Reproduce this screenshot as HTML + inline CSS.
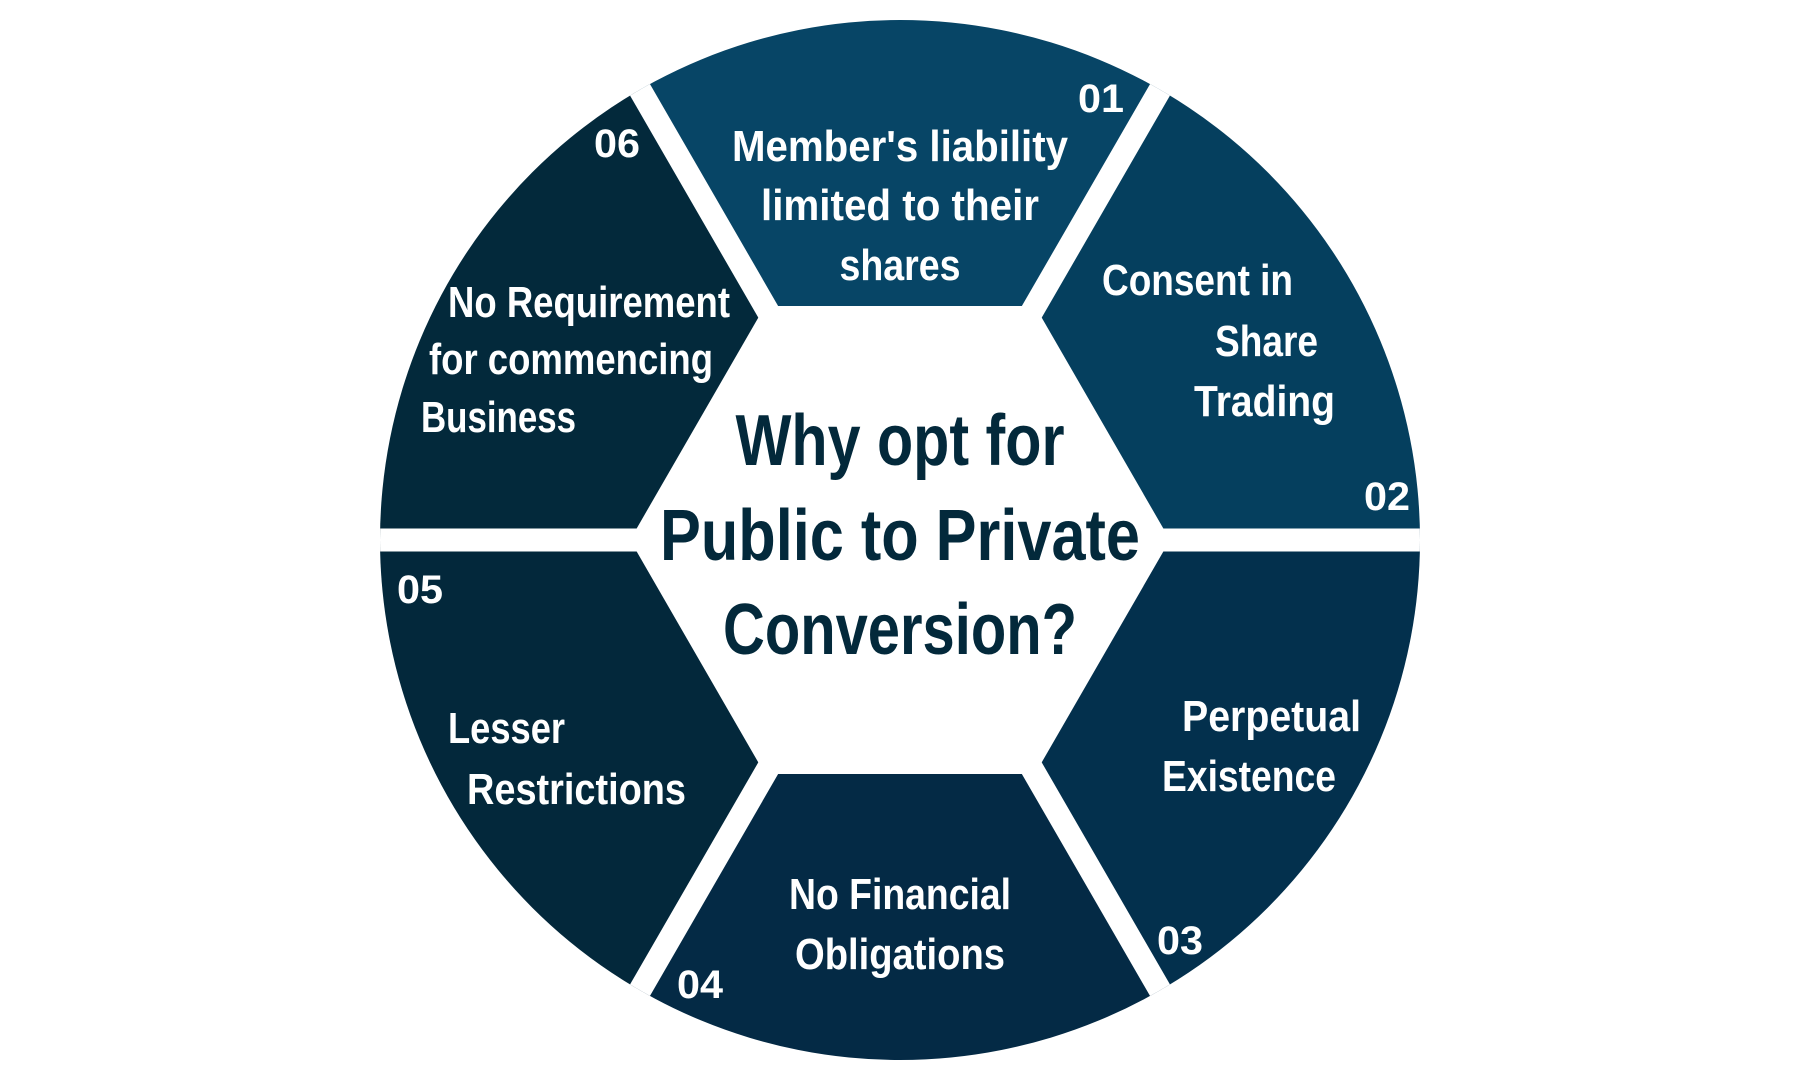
<!DOCTYPE html>
<html><head><meta charset="utf-8"><style>
html,body{margin:0;padding:0;background:#fff;width:1800px;height:1080px;overflow:hidden}
svg{display:block}
text{font-family:"Liberation Sans Narrow","Liberation Sans",sans-serif;font-weight:bold}
.w{fill:#fff;font-size:44px}
.n{fill:#fff;font-size:40px}
.c{fill:#03293b;font-size:72px}
</style></head><body>
<svg width="1800" height="1080" viewBox="0 0 1800 1080">
<defs><clipPath id="cc"><circle cx="900" cy="540" r="520"/></clipPath></defs>
<g clip-path="url(#cc)">
<polygon points="900,540 550,-66 1250,-66" fill="#074566"/>
<polygon points="900,540 1250,-66 1600,540" fill="#053f5e"/>
<polygon points="900,540 1600,540 1250,1146" fill="#03304d"/>
<polygon points="900,540 1250,1146 550,1146" fill="#042a45"/>
<polygon points="900,540 550,1146 200,540" fill="#03283b"/>
<polygon points="900,540 200,540 550,-66" fill="#03293b"/>
<g stroke="#fff" stroke-width="23">
<line x1="900" y1="540" x2="1600" y2="540"/>
<line x1="900" y1="540" x2="200" y2="540"/>
<line x1="900" y1="540" x2="1250" y2="-66"/>
<line x1="900" y1="540" x2="550" y2="-66"/>
<line x1="900" y1="540" x2="1250" y2="1146"/>
<line x1="900" y1="540" x2="550" y2="1146"/>
</g>
<polygon points="1170,540 1035,306 765,306 630,540 765,774 1035,774" fill="#fff"/>
</g>
<text class="n" x="1078" y="112" textLength="46" lengthAdjust="spacingAndGlyphs">01</text>
<text class="w" x="900" y="161" text-anchor="middle" textLength="336" lengthAdjust="spacingAndGlyphs">Member's liability</text>
<text class="w" x="900" y="220" text-anchor="middle" textLength="278" lengthAdjust="spacingAndGlyphs">limited to their</text>
<text class="w" x="900" y="280" text-anchor="middle" textLength="121" lengthAdjust="spacingAndGlyphs">shares</text>
<text class="w" x="1102" y="295" textLength="191" lengthAdjust="spacingAndGlyphs">Consent in</text>
<text class="w" x="1215" y="356" textLength="103" lengthAdjust="spacingAndGlyphs">Share</text>
<text class="w" x="1194" y="416" textLength="141" lengthAdjust="spacingAndGlyphs">Trading</text>
<text class="n" x="1364" y="510" textLength="46" lengthAdjust="spacingAndGlyphs">02</text>
<text class="w" x="1182" y="731" textLength="179" lengthAdjust="spacingAndGlyphs">Perpetual</text>
<text class="w" x="1162" y="791" textLength="174" lengthAdjust="spacingAndGlyphs">Existence</text>
<text class="n" x="1157" y="954" textLength="46" lengthAdjust="spacingAndGlyphs">03</text>
<text class="w" x="900" y="909" text-anchor="middle" textLength="222" lengthAdjust="spacingAndGlyphs">No Financial</text>
<text class="w" x="900" y="969" text-anchor="middle" textLength="210" lengthAdjust="spacingAndGlyphs">Obligations</text>
<text class="n" x="677" y="998" textLength="46" lengthAdjust="spacingAndGlyphs">04</text>
<text class="w" x="448" y="743" textLength="117" lengthAdjust="spacingAndGlyphs">Lesser</text>
<text class="w" x="467" y="804" textLength="219" lengthAdjust="spacingAndGlyphs">Restrictions</text>
<text class="n" x="397" y="603" textLength="46" lengthAdjust="spacingAndGlyphs">05</text>
<text class="w" x="448" y="317" textLength="282" lengthAdjust="spacingAndGlyphs">No Requirement</text>
<text class="w" x="429" y="374" textLength="284" lengthAdjust="spacingAndGlyphs">for commencing</text>
<text class="w" x="421" y="432" textLength="155" lengthAdjust="spacingAndGlyphs">Business</text>
<text class="n" x="594" y="157" textLength="46" lengthAdjust="spacingAndGlyphs">06</text>
<text class="c" x="900" y="465" text-anchor="middle" textLength="329" lengthAdjust="spacingAndGlyphs">Why opt for</text>
<text class="c" x="900" y="560" text-anchor="middle" textLength="480" lengthAdjust="spacingAndGlyphs">Public to Private</text>
<text class="c" x="900" y="654" text-anchor="middle" textLength="354" lengthAdjust="spacingAndGlyphs">Conversion?</text>
</svg>
</body></html>
